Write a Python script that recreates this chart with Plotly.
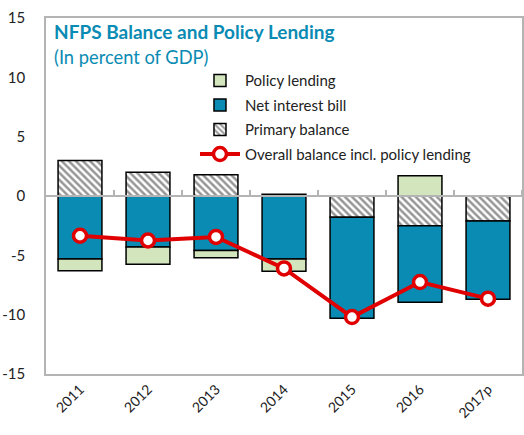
import plotly.graph_objects as go

years = ["2011", "2012", "2013", "2014", "2015", "2016", "2017p"]
primary_balance = [3.0, 2.0, 1.8, 0.15, -1.8, -2.5, -2.1]
net_interest_bill = [-5.3, -4.3, -4.6, -5.3, -8.5, -6.45, -6.6]
policy_lending = [-1.0, -1.45, -0.6, -1.05, 0.0, 1.7, 0.0]
overall_balance = [-3.35, -3.75, -3.45, -6.1, -10.2, -7.25, -8.65]

y_ticks = [-15, -10, -5, 0, 5, 10, 15]
y_tick_labels = ["-15", "-10", "-5", "0", "5", "10", "15"]

FONT = "Lato"
TEAL = "#0a8bb3"
GREEN = "#d3e5bc"
RED = "#e00000"
GRAY = "#b4b4b4"

W, H = 524, 435
ML, MR, MT, MB = 46, 2, 18, 61
plot_w = W - ML - MR
plot_h = H - MT - MB

fig = go.Figure()

fig.add_trace(go.Bar(
    x=years, y=primary_balance, name="Primary balance",
    marker=dict(color="white", line=dict(color="black", width=1.5),
                pattern=dict(shape="\\", fgcolor="#2e2e2e", bgcolor="white",
                             size=5, solidity=0.5)),
    width=0.645, legendrank=3, legendgroup="c",
))
fig.add_trace(go.Bar(
    x=years, y=net_interest_bill, name="Net interest bill",
    marker=dict(color=TEAL, line=dict(color="black", width=1.5)),
    width=0.645, legendrank=2, legendgroup="b",
))
fig.add_trace(go.Bar(
    x=years, y=policy_lending, name="Policy lending",
    marker=dict(color=GREEN, line=dict(color="black", width=1.5)),
    width=0.645, legendrank=1, legendgroup="a",
))
fig.add_trace(go.Scatter(
    x=years, y=overall_balance, name="Overall balance incl. policy lending",
    mode="lines+markers",
    line=dict(color=RED, width=4),
    marker=dict(color="white", size=13, line=dict(color=RED, width=3.5)),
    legendrank=4, legendgroup="d",
))
# invisible helper trace for the zero-line axis with boundary ticks
fig.add_trace(go.Scatter(
    x=[0], y=[0], xaxis="x2", mode="markers",
    marker=dict(opacity=0), showlegend=False, hoverinfo="skip",
))

fig.update_layout(
    width=W, height=H,
    margin=dict(l=ML, r=MR, t=MT, b=MB, autoexpand=False),
    barmode="relative",
    plot_bgcolor="white", paper_bgcolor="white",
    font=dict(family=FONT, size=15, color="#222222"),
    showlegend=True,
    legend=dict(
        x=0.313, y=0.87, xanchor="left", yanchor="top",
        bgcolor="rgba(0,0,0,0)", font=dict(size=15, color="#222222"),
        traceorder="grouped", tracegroupgap=2, itemwidth=40,
    ),
    xaxis=dict(
        type="category", range=[-0.5, 6.5], automargin=False,
        showline=True, linecolor=GRAY, linewidth=1.5, mirror=True,
        ticks="", tickangle=-45, tickfont=dict(size=14),
        showgrid=False, zeroline=False,
    ),
    xaxis2=dict(
        overlaying="x", anchor="free", position=0.5, side="top",
        automargin=False,
        range=[-0.5, 6.5], tickvals=[0.5, 1.5, 2.5, 3.5, 4.5, 5.5, 6.5],
        ticks="outside", ticklen=5, tickcolor=GRAY, tickwidth=1.5,
        showticklabels=False, showline=True, linecolor=GRAY, linewidth=1.5,
        showgrid=False, zeroline=False, layer="above traces",
    ),
    yaxis=dict(
        range=[-15, 15], tickvals=y_ticks, ticktext=y_tick_labels,
        automargin=False,
        showline=True, linecolor=GRAY, linewidth=1.5, mirror=True,
        ticks="", ticklabelstandoff=16, tickfont=dict(size=15),
        showgrid=False, zeroline=False,
    ),
)

titles = [("<b>NFPS Balance and Policy Lending</b>", 32, 19),
          ("(In percent of GDP)", 57, 18.3)]
for text, py, fs in titles:
    fig.add_annotation(
        text=text, x=6 / plot_w, y=1 - (py - MT) / plot_h,
        xref="paper", yref="paper", xanchor="left", yanchor="middle",
        showarrow=False, font=dict(family=FONT, size=fs, color=TEAL),
    )

fig.write_html(
    "out.html",
    config={"displayModeBar": False},
    post_script="document.body.style.margin='0';document.body.style.overflow='hidden';",
)
